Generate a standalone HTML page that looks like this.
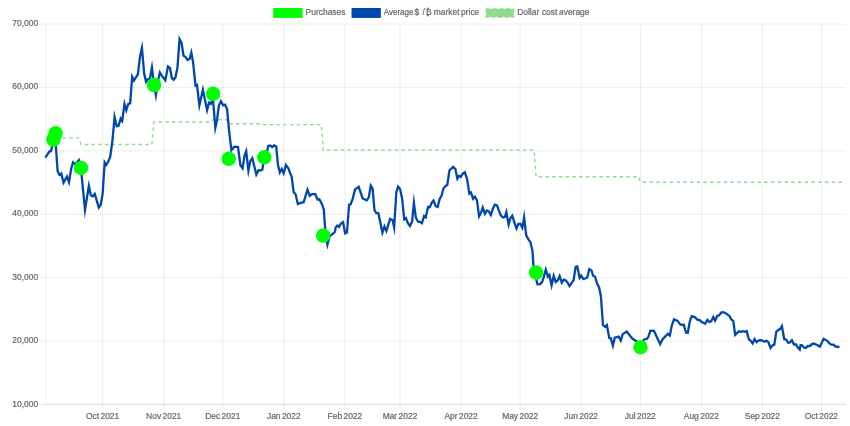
<!DOCTYPE html>
<html lang="en">
<head>
<meta charset="utf-8">
<title>Purchases vs average market price</title>
<style>
html,body{margin:0;padding:0;background:#fff;}
body{width:850px;height:426px;overflow:hidden;}
svg{display:block;filter:blur(0.4px);}
text{font-family:"Liberation Sans",Arial,Helvetica,sans-serif;font-size:8.45px;fill:#666;stroke:#666;stroke-width:0.2px;word-spacing:-0.95px;}
</style>
</head>
<body>
<svg width="850" height="426" viewBox="0 0 850 426">
<rect width="850" height="426" fill="#fff"/>

<g stroke="#000" stroke-opacity="0.1" stroke-width="0.71" fill="none">
<line x1="40.10" y1="24.10" x2="845.80" y2="24.10"/>
<line x1="40.10" y1="87.47" x2="845.80" y2="87.47"/>
<line x1="40.10" y1="150.85" x2="845.80" y2="150.85"/>
<line x1="40.10" y1="214.22" x2="845.80" y2="214.22"/>
<line x1="40.10" y1="277.60" x2="845.80" y2="277.60"/>
<line x1="40.10" y1="340.98" x2="845.80" y2="340.98"/>
<line x1="40.10" y1="404.35" x2="845.80" y2="404.35"/>
<line x1="46.00" y1="24.10" x2="46.00" y2="404.35"/>
<line x1="102.60" y1="24.10" x2="102.60" y2="409.85"/>
<line x1="163.70" y1="24.10" x2="163.70" y2="409.85"/>
<line x1="222.80" y1="24.10" x2="222.80" y2="409.85"/>
<line x1="283.80" y1="24.10" x2="283.80" y2="409.85"/>
<line x1="344.90" y1="24.10" x2="344.90" y2="409.85"/>
<line x1="400.00" y1="24.10" x2="400.00" y2="409.85"/>
<line x1="461.10" y1="24.10" x2="461.10" y2="409.85"/>
<line x1="520.20" y1="24.10" x2="520.20" y2="409.85"/>
<line x1="581.20" y1="24.10" x2="581.20" y2="409.85"/>
<line x1="640.30" y1="24.10" x2="640.30" y2="409.85"/>
<line x1="701.40" y1="24.10" x2="701.40" y2="409.85"/>
<line x1="762.40" y1="24.10" x2="762.40" y2="409.85"/>
<line x1="821.40" y1="24.10" x2="821.40" y2="409.85"/>
<line x1="46.00" y1="404.35" x2="845.80" y2="404.35"/>
</g>
<g text-anchor="end">
<text x="38.1" y="25.85">70,000</text>
<text x="38.1" y="89.37">60,000</text>
<text x="38.1" y="152.89">50,000</text>
<text x="38.1" y="216.41">40,000</text>
<text x="38.1" y="279.93">30,000</text>
<text x="38.1" y="343.45">20,000</text>
<text x="38.1" y="406.97">10,000</text>
</g>
<g text-anchor="middle">
<text x="102.60" y="419.0">Oct 2021</text>
<text x="163.70" y="419.0">Nov 2021</text>
<text x="222.80" y="419.0">Dec 2021</text>
<text x="283.80" y="419.0">Jan 2022</text>
<text x="344.90" y="419.0">Feb 2022</text>
<text x="400.00" y="419.0">Mar 2022</text>
<text x="461.10" y="419.0">Apr 2022</text>
<text x="520.20" y="419.0">May 2022</text>
<text x="581.20" y="419.0">Jun 2022</text>
<text x="640.30" y="419.0">Jul 2022</text>
<text x="701.40" y="419.0">Aug 2022</text>
<text x="762.40" y="419.0">Sep 2022</text>
<text x="821.40" y="419.0">Oct 2022</text>
</g>
<g>
<rect x="274.0" y="8.7" width="27.9" height="8.5" fill="#00ff00" stroke="#00ff00" stroke-width="1.4"/>
<text x="305.6" y="15.0">Purchases</text>
<rect x="352.25" y="8.7" width="27.9" height="8.5" fill="#0047ab" stroke="#0047ab" stroke-width="1.4"/>
<text y="15.0" style="word-spacing:0"><tspan x="383.7" textLength="29.9" lengthAdjust="spacingAndGlyphs">Average</tspan> <tspan x="414.6">$</tspan> <tspan x="422.6">/</tspan> <tspan x="425.6">₿</tspan> <tspan x="433.8">market</tspan> <tspan x="461.0">price</tspan></text>
<rect x="486.2" y="8.85" width="27.4" height="8.2" fill="#8fdb8f" stroke="#8fdb8f" stroke-width="1.4" stroke-dasharray="3.45 3.3"/>
<text y="15.0" style="word-spacing:0"><tspan x="517.2">Dollar</tspan> <tspan x="541.9">cost</tspan> <tspan x="559.0">average</tspan></text>
</g>
<polyline points="62.5,137.9 79.0,137.9 81.0,144.5 151.9,144.5 153.9,122.0 211.1,122.0 213.1,119.8 226.8,119.8 228.8,123.8 262.3,123.8 264.3,124.6 321.2,124.6 323.2,150.0 534.1,150.0 536.1,176.7 638.5,176.7 640.5,182.3 843.5,182.3" fill="none" stroke="#8fdb8f" stroke-width="1.42" stroke-dasharray="3.45 3.30"/>
<polyline points="45.30,157.60 49.45,151.29 51.06,151.21 53.41,139.50 55.16,135.82 57.62,171.20 59.47,174.84 61.23,173.55 63.56,182.65 66.98,176.52 69.00,182.20 71.20,168.80 73.06,162.27 75.29,164.32 78.90,160.17 80.90,167.90 84.99,210.00 88.86,185.87 90.89,195.53 92.83,196.30 94.76,193.96 98.83,207.59 100.78,204.49 102.60,194.10 104.67,162.38 106.25,164.86 108.20,161.80 110.19,157.00 112.40,141.00 114.58,117.04 116.68,126.25 118.49,125.98 120.67,118.72 122.20,120.90 124.50,103.89 126.28,110.24 128.28,103.88 130.17,103.28 132.17,76.83 133.98,80.56 135.90,77.40 137.88,74.39 140.00,56.80 141.97,47.99 144.20,73.80 146.06,81.86 147.76,79.23 149.82,79.44 151.94,67.44 154.00,84.00 155.87,95.00 157.90,80.90 159.88,72.55 161.80,75.60 165.32,80.27 167.96,66.43 169.95,67.93 171.83,77.89 173.58,79.82 175.48,77.39 177.50,67.10 179.56,39.00 181.49,42.60 183.57,55.75 185.38,56.82 187.57,60.11 189.54,59.06 191.31,52.69 193.00,62.00 195.52,85.60 196.98,84.89 199.37,105.42 202.90,89.74 207.09,110.18 208.98,102.62 210.75,103.84 212.83,97.35 215.34,127.63 217.00,120.00 218.91,105.60 220.92,101.32 223.18,105.35 225.01,104.69 227.09,109.10 228.90,129.10 231.41,150.22 234.35,146.70 238.03,146.98 240.43,165.29 242.61,168.31 244.51,155.50 246.21,151.19 248.39,170.77 250.32,160.91 252.31,158.24 256.33,174.59 258.60,170.12 260.30,170.55 262.31,169.63 264.23,158.02 266.07,155.99 268.22,145.92 270.27,145.50 272.10,147.11 274.03,145.39 276.20,146.56 278.00,165.00 279.81,172.35 281.77,168.94 283.71,173.28 285.91,164.93 288.49,168.50 290.10,173.20 291.69,176.60 293.63,192.09 295.68,194.61 297.81,204.00 301.50,202.60 303.70,202.19 307.49,189.59 309.77,195.91 312.12,194.05 315.30,194.14 317.50,199.50 319.33,199.27 322.10,204.40 323.79,209.70 325.60,235.00 327.39,244.75 329.43,236.81 331.20,235.00 335.05,231.77 335.64,227.41 337.30,225.53 339.04,226.92 340.82,223.62 343.05,222.15 345.14,233.33 346.98,232.52 349.06,204.68 350.52,204.48 352.60,199.10 355.05,189.43 358.73,186.77 362.66,198.45 366.73,200.35 368.78,197.39 370.75,185.69 372.57,188.51 374.52,210.29 376.35,213.19 378.35,213.20 382.43,232.57 384.45,226.54 386.39,230.98 390.08,218.92 392.52,220.06 394.15,227.34 396.31,192.60 398.07,186.59 400.08,189.11 402.10,198.50 404.25,219.43 405.91,218.16 408.01,223.50 409.93,226.01 412.09,221.50 413.89,202.90 415.81,217.40 417.97,221.69 419.89,221.83 421.91,223.22 423.95,216.16 425.72,217.29 428.05,207.04 429.81,207.22 431.81,202.60 433.49,200.54 435.66,206.15 437.70,206.98 439.51,199.50 441.60,195.40 443.52,188.31 445.50,186.20 447.34,184.77 449.45,170.22 453.18,166.84 455.37,169.11 457.35,178.71 459.08,175.85 460.84,176.93 462.82,173.52 464.84,172.30 467.20,179.50 469.31,193.53 470.97,192.51 473.02,198.66 474.88,196.62 476.98,200.40 479.08,216.36 481.20,212.40 482.78,207.49 484.91,213.81 486.90,210.50 488.77,211.42 490.81,214.90 492.90,208.80 494.82,204.66 497.03,205.37 499.10,211.20 500.81,215.29 502.94,217.47 504.81,217.01 506.37,212.11 508.63,224.60 510.41,218.21 512.26,215.73 514.50,222.90 516.50,228.44 518.29,223.99 520.30,223.67 522.35,227.58 524.11,217.09 526.21,235.30 528.40,239.40 530.58,242.41 532.60,251.80 533.50,266.00 535.40,276.00 537.46,284.38 540.07,284.15 542.08,282.09 543.80,276.80 545.78,269.63 547.92,276.64 549.43,275.00 551.59,285.29 553.70,275.83 555.78,281.98 557.88,280.29 559.63,276.02 561.83,282.69 563.78,279.71 565.58,280.32 567.60,282.60 569.53,286.04 571.50,283.20 573.58,280.19 575.63,266.80 577.29,266.34 579.65,277.88 581.22,275.62 583.28,279.00 585.20,278.50 587.23,277.54 589.31,269.00 591.46,270.43 593.15,275.75 595.05,276.75 597.00,283.20 599.09,287.40 600.90,296.20 602.98,325.26 605.06,326.83 606.88,325.05 609.24,338.00 610.78,338.07 612.87,345.63 614.81,337.70 618.69,336.71 620.72,340.46 622.74,334.13 626.75,331.51 630.60,336.50 632.61,338.79 636.49,341.21 640.54,345.87 644.15,339.46 647.06,338.75 648.49,336.50 650.33,330.78 654.01,330.92 660.18,344.13 662.41,339.41 664.10,337.60 667.88,333.83 669.80,335.62 671.80,325.60 673.96,319.37 677.58,320.92 680.01,324.09 681.80,325.04 683.74,324.59 686.03,332.74 687.82,332.79 689.70,322.00 691.65,316.20 694.69,317.12 697.62,319.75 699.38,319.85 701.50,321.79 705.20,323.77 707.36,319.98 709.44,322.14 711.37,320.88 713.26,316.98 715.12,320.64 717.16,315.96 719.18,315.27 721.24,312.46 723.20,312.13 725.30,312.91 727.30,314.40 729.38,315.91 731.22,319.39 733.24,320.94 735.20,334.89 738.84,331.32 740.60,331.77 742.70,331.23 744.69,331.76 746.63,331.00 748.84,339.37 750.79,340.91 752.60,343.44 754.57,339.10 756.57,342.03 758.51,340.61 760.60,340.05 764.30,341.54 766.58,340.81 768.37,342.12 770.51,347.91 772.42,345.52 774.31,344.63 776.25,331.82 778.20,330.00 780.38,328.78 781.90,326.27 784.24,339.24 786.05,339.48 788.07,342.73 789.97,342.36 791.91,340.26 793.99,344.52 795.83,344.26 798.01,347.90 799.72,349.64 800.61,345.02 801.98,345.33 803.91,347.38 805.86,348.05 807.93,345.98 809.97,346.11 811.82,344.13 813.80,343.56 817.60,345.30 819.89,346.69 823.62,338.86 827.39,340.82 829.41,343.49 831.41,344.67 833.48,344.75 835.51,346.48 837.59,347.04 839.40,346.20" fill="none" stroke="#0047ab" stroke-width="2.3" stroke-linejoin="miter" stroke-miterlimit="10" stroke-linecap="butt"/>
<g fill="#00ff00">
<circle cx="53.4" cy="139.5" r="7.25"/>
<circle cx="55.6" cy="133.3" r="7.25"/>
<circle cx="81.0" cy="167.9" r="7.25"/>
<circle cx="154.1" cy="85.0" r="7.25"/>
<circle cx="213.1" cy="93.8" r="7.25"/>
<circle cx="228.7" cy="158.8" r="7.25"/>
<circle cx="264.3" cy="157.3" r="7.25"/>
<circle cx="323.2" cy="235.6" r="7.25"/>
<circle cx="536.1" cy="272.6" r="7.25"/>
<circle cx="640.5" cy="347.2" r="7.25"/>
</g>
</svg>
</body>
</html>
